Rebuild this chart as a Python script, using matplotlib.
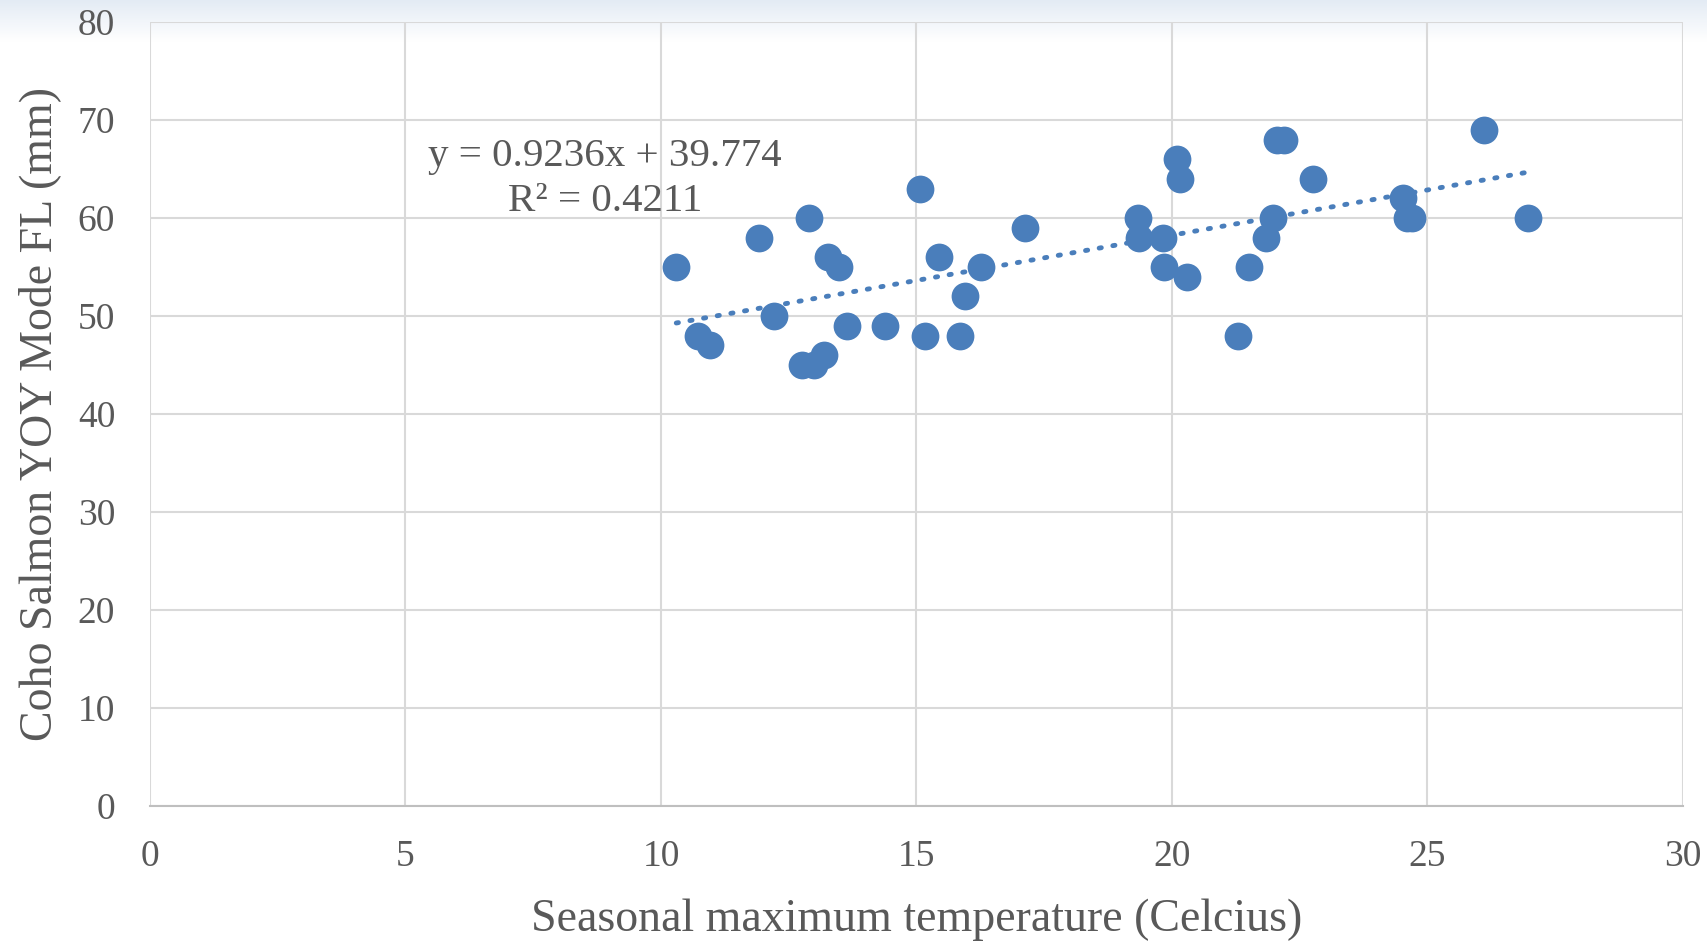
import matplotlib.pyplot as plt
import numpy as np

# seasonal max temperature (C) vs coho YOY mode fork length (mm)
temp_c = [10.3, 10.72, 10.96, 11.92, 12.22, 12.9, 12.77, 13.0, 13.2, 13.26,
          13.48, 13.65, 14.39, 15.07, 15.16, 15.44, 15.86, 15.95, 16.27, 17.12,
          19.34, 19.36, 19.83, 19.85, 20.1, 20.15, 20.3, 21.3, 21.5, 21.85,
          21.98, 22.05, 22.2, 22.77, 24.52, 24.6, 24.69, 26.1, 26.97]
fork_len = [55, 48, 47, 58, 50, 60, 45, 45, 46, 56,
            55, 49, 49, 63, 48, 56, 48, 52, 55, 59,
            60, 58, 58, 55, 66, 64, 54, 48, 55, 58,
            60, 68, 68, 64, 62, 60, 60, 69, 60]

slope = 0.9236
intercept = 39.774
r_squared = 0.4211

x_ticks = [0, 5, 10, 15, 20, 25, 30]
y_ticks = [0, 10, 20, 30, 40, 50, 60, 70, 80]

blue = '#4a7ebb'
text_gray = '#595959'
grid_gray = '#d9d9d9'

plt.rcParams['font.family'] = ['Liberation Serif', 'DejaVu Serif']

fig = plt.figure(figsize=(17.08, 9.42), dpi=100)

# faint bluish band at the very top (page background)
band = fig.add_axes([0, 0.955, 1, 0.045], zorder=-5)
grad = np.linspace(0.0, 1.0, 50).reshape(-1, 1)
band.imshow(grad, aspect='auto', cmap=plt.matplotlib.colors.LinearSegmentedColormap.from_list(
    'b', ['#e3ebf4', '#ffffff']), extent=[0, 1, 0, 1], origin='upper')
band.axis('off')

ax = fig.add_axes([0.0878, 0.1444, 0.8975, 0.8322])
ax.patch.set_alpha(0)

ax.scatter(temp_c, fork_len, s=400, color=blue, zorder=3, linewidths=0)

xs = np.array([min(temp_c), max(temp_c)])
ax.plot(xs, slope * xs + intercept, color=blue, linewidth=3.5,
        linestyle=(0, (0.45, 2.4)), dash_capstyle='round', zorder=2)

ax.text(8.9, 64.0, f"y = {slope}x + {intercept}\nR\u00b2 = {r_squared}",
        ha='center', va='center', fontsize=29.5, color=text_gray,
        linespacing=1.3, zorder=4)

ax.set_xlim(0, 30)
ax.set_ylim(0, 80)
ax.set_xticks(x_ticks)
ax.set_yticks(y_ticks)
ax.grid(True, color=grid_gray, linewidth=1.5)
ax.set_axisbelow(True)
for side in ['top', 'right', 'left']:
    ax.spines[side].set_visible(False)
ax.spines['bottom'].set_color('#bfbfbf')
ax.spines['bottom'].set_linewidth(1.5)

ax.tick_params(length=0, labelsize=27, labelcolor=text_gray)
ax.tick_params(axis='y', pad=25)
ax.tick_params(axis='x', pad=24)

ax.set_xlabel("Seasonal maximum temperature (Celcius)", fontsize=33, color=text_gray, labelpad=18)
ax.set_ylabel("Coho Salmon YOY Mode FL (mm)", fontsize=33, color=text_gray, labelpad=12)

fig.savefig("out.png", dpi=100)
